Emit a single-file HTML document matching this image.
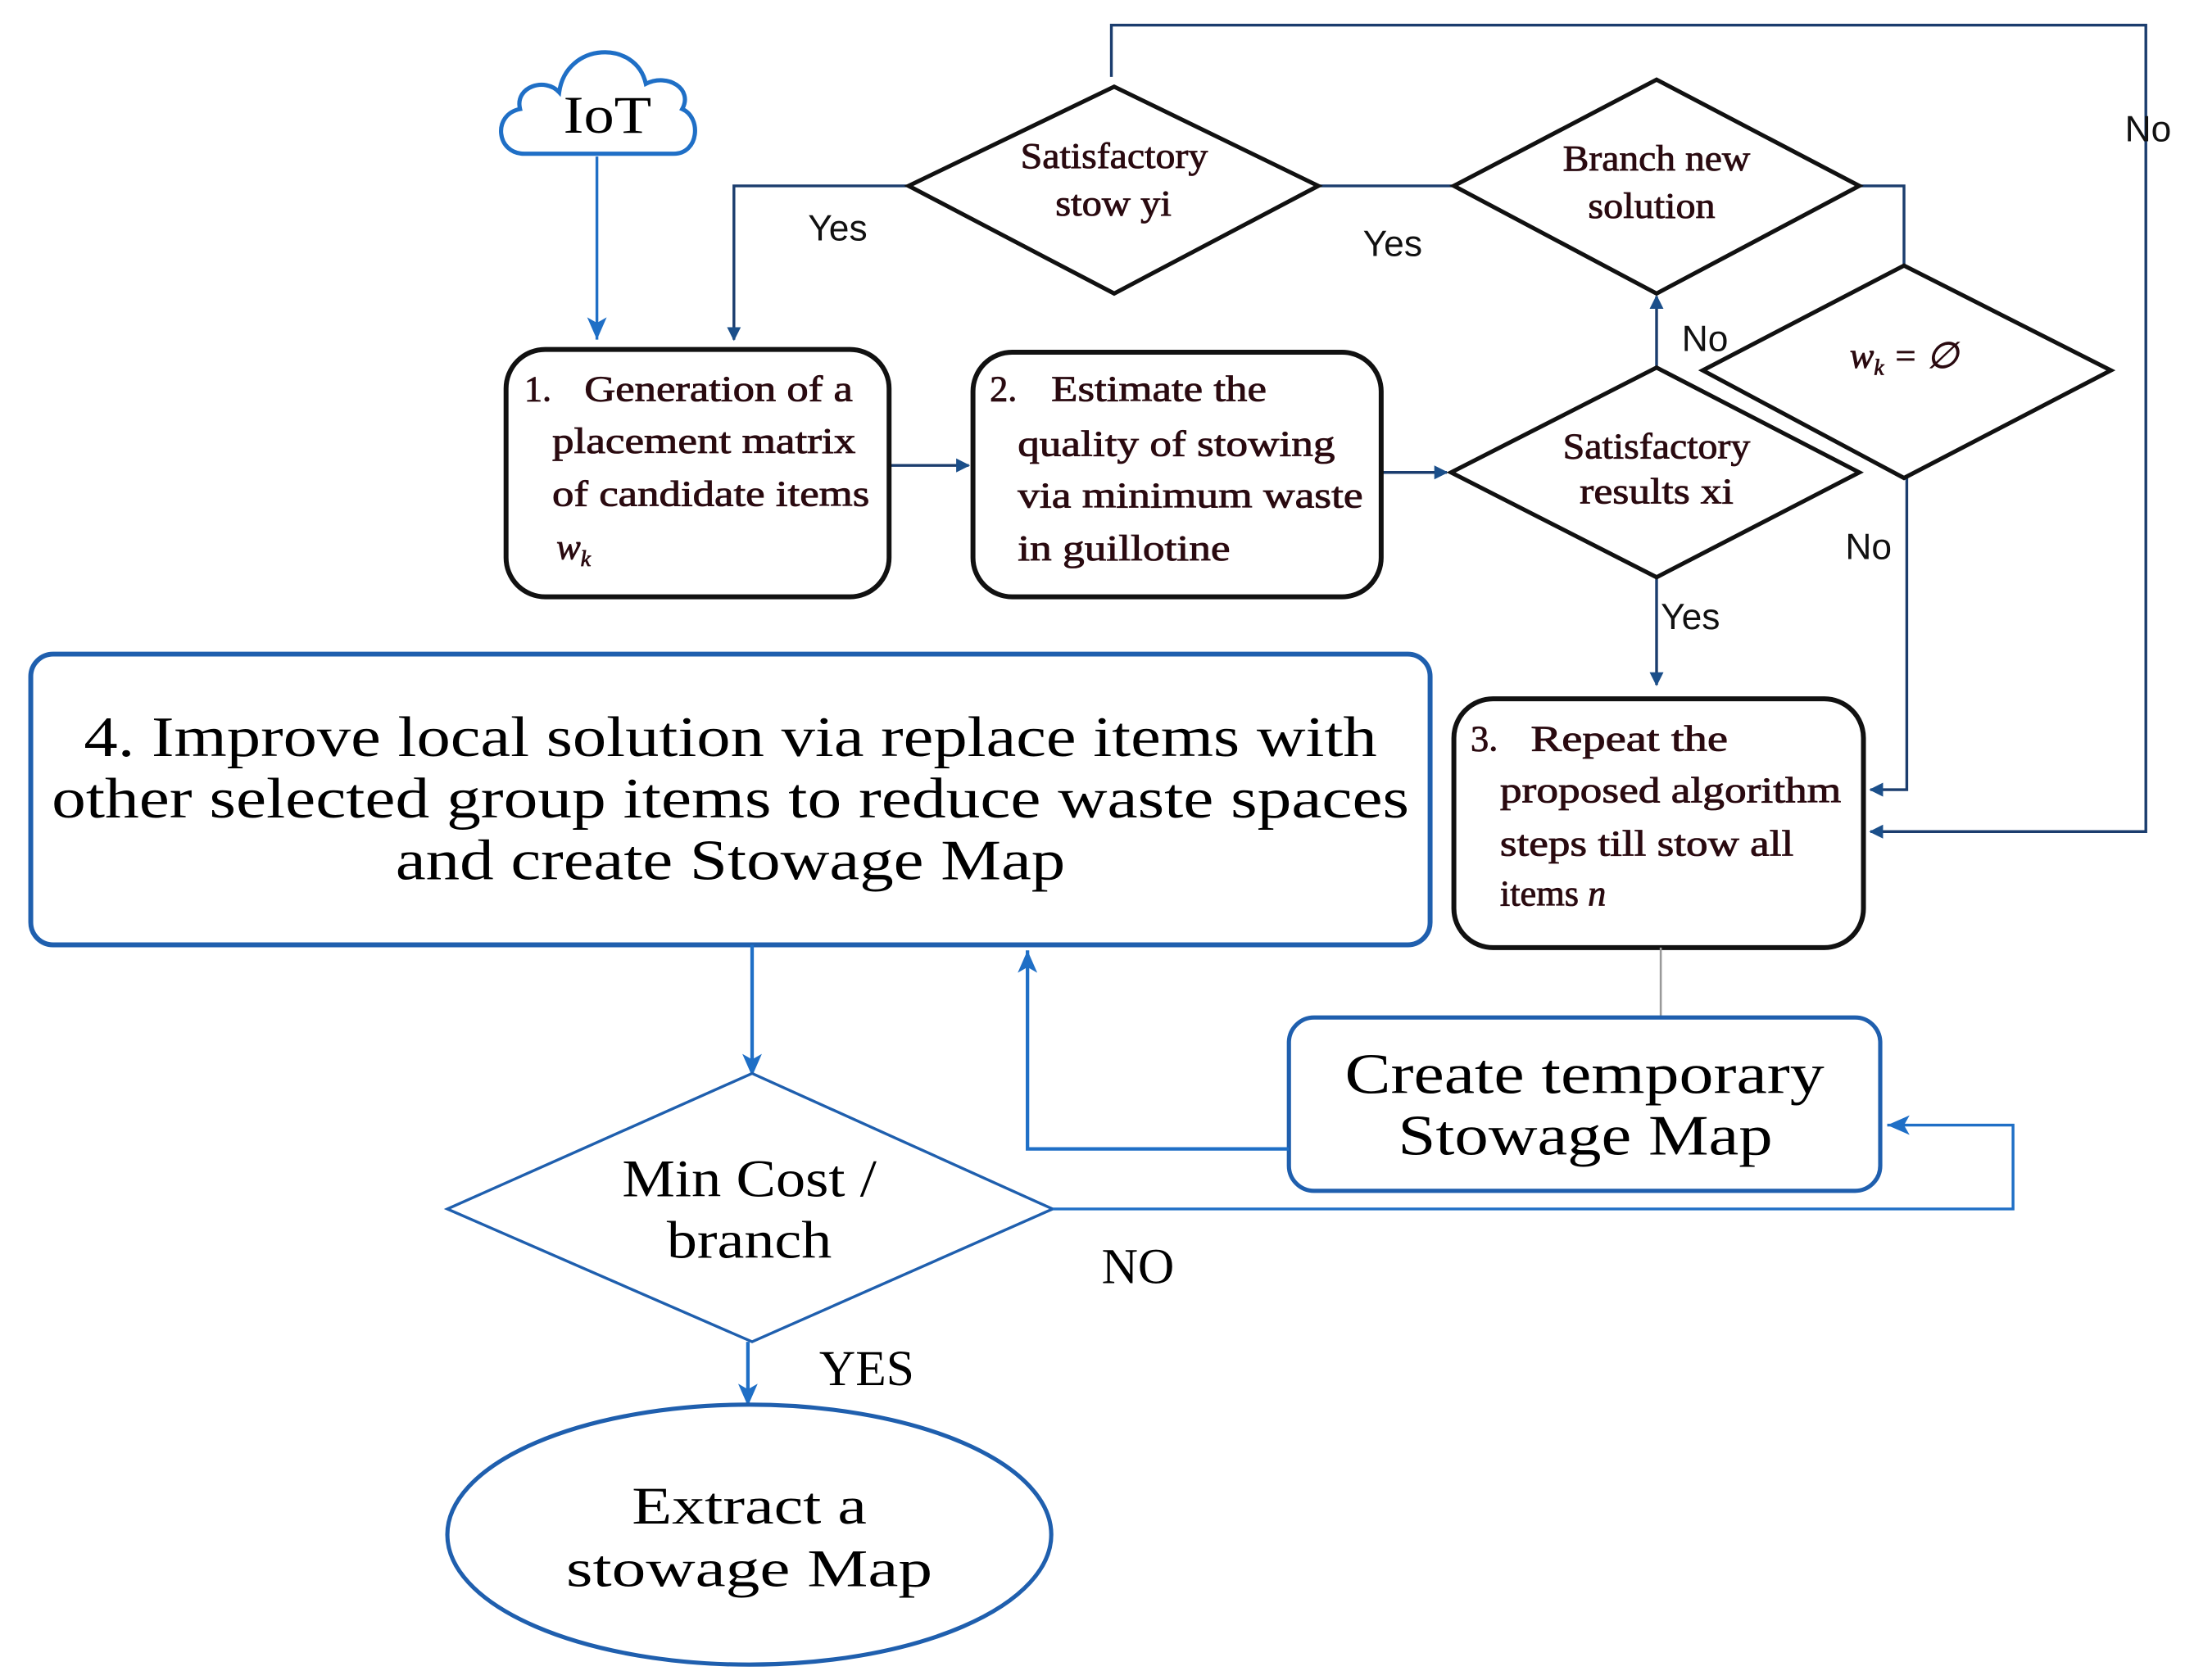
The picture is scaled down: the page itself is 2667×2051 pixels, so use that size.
<!DOCTYPE html>
<html><head><meta charset="utf-8"><style>
html,body{margin:0;padding:0;background:#fff;}
svg{display:block;}
.s{font-family:"Liberation Serif",serif;}
.a{font-family:"Liberation Sans",sans-serif;}
</style></head><body>
<svg width="2667" height="2051" viewBox="0 0 1563 1202" xmlns="http://www.w3.org/2000/svg">
<defs>
<marker id="nb" markerWidth="10" markerHeight="10" refX="9" refY="5" orient="auto" markerUnits="userSpaceOnUse"><path d="M0,0 L10,5 L0,10 Z" fill="#1b4f8a"/></marker>
<marker id="bb" markerWidth="18" markerHeight="18" refX="16" refY="9" orient="auto" markerUnits="userSpaceOnUse"><path d="M0,2 L16,9 L0,16 L4,9 Z" fill="#1f6fc6"/></marker>
</defs>
<g fill="none" stroke-linejoin="miter">
<path d="M375,110 C355,110 352,82 372,78 C368,62 390,55 400,66 C405,30 455,28 462,60 C478,52 496,64 488,78 C502,84 500,110 482,110 Z" stroke="#1f6fc6" stroke-width="3" fill="#fff"/>
<line x1="427" y1="112" x2="427" y2="243" stroke="#1f6fc6" stroke-width="2" marker-end="url(#bb)"/>
<polyline points="795,55 795,18 1535,18 1535,595 1338,595" stroke="#1b3d6e" stroke-width="2" marker-end="url(#nb)"/>
<polyline points="650,133 525,133 525,243" stroke="#1b3d6e" stroke-width="2" marker-end="url(#nb)"/>
<line x1="943" y1="133" x2="1040" y2="133" stroke="#1b3d6e" stroke-width="2"/>
<polyline points="1330,133 1362,133 1362,190" stroke="#1b3d6e" stroke-width="2"/>
<polyline points="1364,342 1364,565 1338,565" stroke="#1b3d6e" stroke-width="2" marker-end="url(#nb)"/>
<line x1="1185" y1="263" x2="1185" y2="212" stroke="#1b3d6e" stroke-width="2" marker-end="url(#nb)"/>
<line x1="1185" y1="413" x2="1185" y2="490" stroke="#1b3d6e" stroke-width="2" marker-end="url(#nb)"/>
<line x1="636" y1="333" x2="693" y2="333" stroke="#1b3d6e" stroke-width="2" marker-end="url(#nb)"/>
<line x1="988" y1="338" x2="1035" y2="338" stroke="#1b3d6e" stroke-width="2" marker-end="url(#nb)"/>
<polygon points="650,133 797,62 943,133 797,210" stroke="#111" stroke-width="3" fill="#fff"/>
<polygon points="1040,133 1185,57 1330,133 1185,210" stroke="#111" stroke-width="3" fill="#fff"/>
<polygon points="1218,265 1362,190 1510,265 1362,342" stroke="#111" stroke-width="3" fill="#fff"/>
<polygon points="1038,338 1185,263 1330,338 1185,413" stroke="#111" stroke-width="3" fill="#fff"/>
<rect x="362" y="250" width="274" height="177" rx="28" stroke="#111" stroke-width="3.5" fill="#fff"/>
<rect x="696" y="252" width="292" height="175" rx="28" stroke="#111" stroke-width="3.5" fill="#fff"/>
<rect x="1040" y="500" width="293" height="178" rx="28" stroke="#111" stroke-width="3.5" fill="#fff"/>
<rect x="22" y="468" width="1001" height="208" rx="16" stroke="#1f5fae" stroke-width="3.5" fill="#fff"/>
<line x1="1188" y1="678" x2="1188" y2="728" stroke="#999" stroke-width="1.5"/>
<rect x="922" y="728" width="423" height="124" rx="18" stroke="#1f5fae" stroke-width="3" fill="#fff"/>
<polyline points="922,822 735,822 735,680" stroke="#1f6fc6" stroke-width="2.5" marker-end="url(#bb)"/>
<line x1="538" y1="676" x2="538" y2="770" stroke="#1f6fc6" stroke-width="2.5" marker-end="url(#bb)"/>
<polygon points="320,865 538,768 753,865 538,960" stroke="#1f5fae" stroke-width="2" fill="#fff"/>
<polyline points="753,865 1440,865 1440,805 1350,805" stroke="#1f6fc6" stroke-width="2" marker-end="url(#bb)"/>
<line x1="535" y1="960" x2="535" y2="1006" stroke="#1f6fc6" stroke-width="2.5" marker-end="url(#bb)"/>
<ellipse cx="536" cy="1098" rx="216" ry="93" stroke="#1f5fae" stroke-width="3" fill="#fff"/>
</g>
<g class="s" fill="#000">
<text x="403" y="95" font-size="38" textLength="63" lengthAdjust="spacingAndGlyphs">IoT</text>
<g fill="#2a0a10" font-size="26" stroke="#2a0a10" stroke-width="0.5" lengthAdjust="spacingAndGlyphs">
<text x="730" y="120" textLength="134" lengthAdjust="spacingAndGlyphs">Satisfactory</text>
<text x="755" y="154" textLength="83" lengthAdjust="spacingAndGlyphs">stow yi</text>
<text x="1118" y="122" textLength="134" lengthAdjust="spacingAndGlyphs">Branch new</text>
<text x="1136" y="156" textLength="91" lengthAdjust="spacingAndGlyphs">solution</text>
<text x="1362" y="263" text-anchor="middle" font-style="italic">w<tspan font-size="16" dy="5">k</tspan><tspan dy="-5"> = ∅</tspan></text>
<text x="1118" y="328" textLength="134" lengthAdjust="spacingAndGlyphs">Satisfactory</text>
<text x="1130" y="360" textLength="110" lengthAdjust="spacingAndGlyphs">results  xi</text>
<text x="375" y="287">1.</text>
<text x="418" y="287" textLength="192" lengthAdjust="spacingAndGlyphs">Generation of a</text>
<text x="395" y="324" textLength="217" lengthAdjust="spacingAndGlyphs">placement matrix</text>
<text x="395" y="362" textLength="227" lengthAdjust="spacingAndGlyphs">of candidate items</text>
<text x="398" y="400" font-style="italic">w<tspan font-size="16" dy="5">k</tspan></text>
<text x="708" y="287">2.</text>
<text x="752" y="287" textLength="154" lengthAdjust="spacingAndGlyphs">Estimate the</text>
<text x="728" y="326" textLength="227" lengthAdjust="spacingAndGlyphs">quality of stowing</text>
<text x="728" y="363" textLength="247" lengthAdjust="spacingAndGlyphs">via minimum waste</text>
<text x="728" y="401" textLength="152" lengthAdjust="spacingAndGlyphs">in guillotine</text>
<text x="1052" y="537">3.</text>
<text x="1095" y="537" textLength="141" lengthAdjust="spacingAndGlyphs">Repeat  the</text>
<text x="1073" y="574" textLength="244" lengthAdjust="spacingAndGlyphs">proposed algorithm</text>
<text x="1073" y="612" textLength="210" lengthAdjust="spacingAndGlyphs">steps till stow all</text>
<text x="1073" y="648">items <tspan font-style="italic">n</tspan></text>
</g>
<g font-size="41">
<text x="60" y="541" textLength="925" lengthAdjust="spacingAndGlyphs">4. Improve local solution via replace items with</text>
<text x="37" y="585" textLength="971" lengthAdjust="spacingAndGlyphs">other selected group items to reduce waste spaces</text>
<text x="283" y="629" textLength="479" lengthAdjust="spacingAndGlyphs">and create Stowage Map</text>
<text x="962" y="782" textLength="343" lengthAdjust="spacingAndGlyphs">Create temporary</text>
<text x="1000" y="826" textLength="268" lengthAdjust="spacingAndGlyphs">Stowage Map</text>
</g>
<g font-size="38">
<text x="445" y="856" textLength="182" lengthAdjust="spacingAndGlyphs">Min Cost /</text>
<text x="477" y="900" textLength="118" lengthAdjust="spacingAndGlyphs">branch</text>
<text x="452" y="1090" textLength="168" lengthAdjust="spacingAndGlyphs">Extract a</text>
<text x="405" y="1135" textLength="262" lengthAdjust="spacingAndGlyphs">stowage Map</text>
</g>
<text x="788" y="918" font-size="36">NO</text>
<text x="586" y="991" font-size="36">YES</text>
</g>
<g class="a" font-size="26" fill="#111">
<text x="578" y="172">Yes</text>
<text x="975" y="183">Yes</text>
<text x="1520" y="101">No</text>
<text x="1203" y="251">No</text>
<text x="1320" y="400">No</text>
<text x="1188" y="450">Yes</text>
</g>
</svg>
</body></html>
